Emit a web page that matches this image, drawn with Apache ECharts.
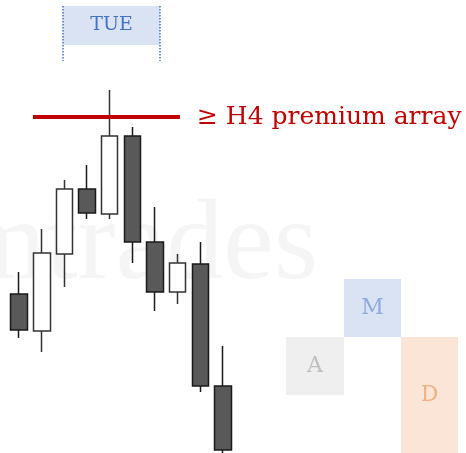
<!DOCTYPE html>
<html><head><meta charset="utf-8">
<script src="https://cdn.jsdelivr.net/npm/echarts@6/dist/echarts.min.js"></script>
<style>html,body{margin:0;padding:0;background:#fff}#c{width:466px;height:453px}</style>
</head><body><div id="c"></div>
<script>
// categories (bars)
const categories = ['1','2','3','4','5','6','7','8','9','10','','','','','','','','','',''];
// OHLC values: [open, close, low, high]
const ohlc = [
  [159, 123, 115, 181],
  [122, 200, 101, 224],
  [199, 264, 166, 273],
  [264, 240, 234, 288],
  [239, 317, 234, 363],
  [317, 211, 190, 326],
  [211, 161, 142, 246],
  [161, 190, 149, 199],
  [189, 67, 61, 211],
  [67, 3, -2, 107]
];
// annotation values (in bar-units on x, price on y)
const tueZone = [2.44, 6.72, 408, 447];
const tueGuideBottom = 392;
const premiumLevel = 336;
const premiumSpan = [1.11, 7.60];
const premiumText = '≥ H4 premium array';
const amdZones = [
  {name: 'A', x: [12.28, 14.84], y: [58, 116]},
  {name: 'M', x: [14.84, 17.36], y: [116, 174]},
  {name: 'D', x: [17.36, 19.88], y: [0, 116]}
];
const watermarkText = 'mtrades';
const watermarkPos = [13.7, 205];

const amdStyles = {
  A: {fill: '#efefef', text: '#bfbfbf'},
  M: {fill: '#dae3f3', text: '#8faadc'},
  D: {fill: '#fbe5d6', text: '#f4b183'}
};
const FONT = 'DejaVu Serif';

const chart = echarts.init(document.getElementById('c'));
chart.setOption({
  animation: false,
  grid: {left: 7.8, right: 5.2, top: 0, bottom: 0},
  xAxis: [
    {type: 'category', data: categories, show: false, boundaryGap: true},
    {type: 'value', min: 0, max: 20, show: false}
  ],
  yAxis: [
    {type: 'value', min: 0, max: 453, show: false},
    {type: 'value', min: 0, max: 453, show: false}
  ],
  series: [
    {
      type: 'scatter', xAxisIndex: 1, yAxisIndex: 1, z: 0, silent: true,
      symbolSize: 0,
      data: [watermarkPos],
      label: {show: true, formatter: watermarkText, position: 'inside', align: 'right', verticalAlign: 'middle',
        fontFamily: 'Liberation Serif', fontSize: 114, color: '#f3f3f3'}
    },
    {
      type: 'line', xAxisIndex: 1, yAxisIndex: 1, z: 1, silent: true, data: [],
      markArea: {
        silent: true,
        data: [
          [{xAxis: tueZone[0], yAxis: tueZone[3], itemStyle: {color: '#dae3f3'},
            label: {show: true, position: 'inside', formatter: 'TUE', color: '#4472c4', fontFamily: FONT, fontSize: 19}},
           {xAxis: tueZone[1], yAxis: tueZone[2]}]
        ].concat(amdZones.map(z => [
          {xAxis: z.x[0], yAxis: z.y[1], itemStyle: {color: amdStyles[z.name].fill},
           label: {show: true, position: 'inside', formatter: z.name, color: amdStyles[z.name].text, fontFamily: FONT, fontSize: 22}},
          {xAxis: z.x[1], yAxis: z.y[0]}
        ]))
      },
      markLine: {
        silent: true, symbol: 'none',
        data: [
          [{coord: [tueZone[0], tueZone[3]], lineStyle: {color: '#4472c4', type: 'dotted', width: 1.5}},
           {coord: [tueZone[0], tueGuideBottom]}],
          [{coord: [tueZone[1], tueZone[3]], lineStyle: {color: '#4472c4', type: 'dotted', width: 1.5}},
           {coord: [tueZone[1], tueGuideBottom]}],
          [{coord: [premiumSpan[0], premiumLevel], lineStyle: {color: '#c00000', type: 'solid', width: 4},
            label: {show: true, position: 'end', formatter: premiumText, color: '#c00000', fontFamily: FONT, fontSize: 25, distance: 17}},
           {coord: [premiumSpan[1], premiumLevel]}]
        ].map(d => { if (!d[0].label) d[0].label = {show: false}; return d; })
      }
    },
    {
      type: 'candlestick', xAxisIndex: 0, yAxisIndex: 0, z: 3,
      barWidth: 17,
      data: ohlc,
      itemStyle: {color: '#ffffff', color0: '#595959', borderColor: '#333333', borderColor0: '#1a1a1a', borderWidth: 1.5}
    }
  ]
});
</script></body></html>
